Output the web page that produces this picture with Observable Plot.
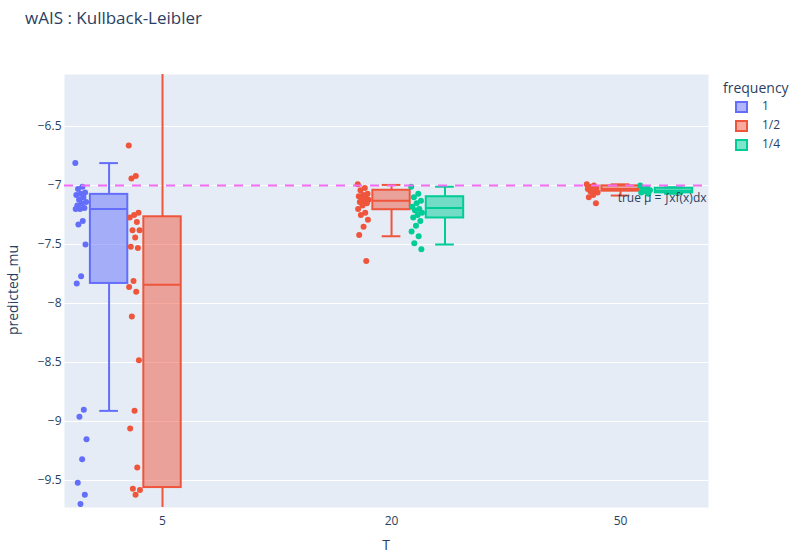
<!DOCTYPE html>
<html><head><meta charset="utf-8">
<script src="https://cdn.jsdelivr.net/npm/d3@7"></script>
<script src="https://cdn.jsdelivr.net/npm/@observablehq/plot@0.6"></script>
<style>
body{margin:0;background:#fff;font-family:"Open Sans",sans-serif;color:#2a3f5f}
#wrap{position:relative;width:802px;height:559px}
.abs{position:absolute;white-space:nowrap;line-height:1}
.sw{position:absolute;width:13px;height:12px;box-sizing:border-box;border:2px solid}
</style></head><body><div id="wrap"></div>
<script>
// ---- data ----
const categories = ["5", "20", "50"];
const frequencies = ["1", "1/2", "1/4"];
const colors = ["#636efa", "#EF553B", "#00cc96"];
const trueMu = -7;
const yTicks = [-9.5, -9, -8.5, -8, -7.5, -7, -6.5];

const pointsT5F1 = [-6.81, -7.01, -7.03, -7.06, -7.07, -7.08, -7.10, -7.12, -7.14, -7.15, -7.17, -7.19, -7.20, -7.20, -7.30, -7.33, -7.50, -7.77, -7.83, -8.90, -8.96, -9.15, -9.32, -9.52, -9.62, -9.70];
const pointsT5F2 = [-6.66, -6.92, -6.94, -7.23, -7.25, -7.27, -7.31, -7.38, -7.38, -7.44, -7.52, -7.53, -7.81, -7.86, -7.90, -8.11, -8.48, -8.91, -9.06, -9.39, -9.57, -9.58, -9.62];
const pointsT20F2 = [-6.99, -7.02, -7.04, -7.07, -7.08, -7.09, -7.10, -7.11, -7.12, -7.13, -7.14, -7.15, -7.17, -7.20, -7.23, -7.25, -7.29, -7.35, -7.42, -7.64];
const pointsT20F4 = [-7.01, -7.07, -7.10, -7.13, -7.15, -7.18, -7.20, -7.21, -7.23, -7.25, -7.27, -7.30, -7.34, -7.39, -7.43, -7.49, -7.54];
const pointsT50F2 = [-6.99, -7.00, -7.01, -7.02, -7.02, -7.03, -7.04, -7.05, -7.06, -7.08, -7.10, -7.15];
const pointsT50F4 = [-7.00, -7.02, -7.03, -7.04, -7.05, -7.06, -7.07];

const boxT     = ["5", "5", "20", "20", "50", "50"];
const boxFreq  = ["1", "1/2", "1/2", "1/4", "1/2", "1/4"];
const boxLower = [-8.91, -10.4, -7.43, -7.50, -7.085, -7.07];
const boxQ1    = [-7.83, -9.56, -7.205, -7.275, -7.048, -7.062];
const boxMed   = [-7.20, -7.84, -7.13, -7.19, -7.03, -7.045];
const boxQ3    = [-7.075, -7.265, -7.04, -7.095, -7.003, -7.023];
const boxUpper = [-6.81, -5.6, -6.995, -7.01, -6.99, -7.015];

// ---- layout helpers (grouped boxes like plotly boxmode=group) ----
const slot = 0.7 / 3, half = slot * 0.7 / 2;
const center = (t, f) => categories.indexOf(t) + (frequencies.indexOf(f) - 1) * slot;

const boxes = boxT.map((t, i) => {
  const c = center(t, boxFreq[i]);
  return {t, f: boxFreq[i], c, x1: c - half, x2: c + half, cap1: c - half / 2, cap2: c + half / 2,
    lower: boxLower[i], q1: boxQ1[i], median: boxMed[i], q3: boxQ3[i], upper: boxUpper[i]};
});

const pointSets = [
  {t: "5", f: "1", v: pointsT5F1}, {t: "5", f: "1/2", v: pointsT5F2},
  {t: "20", f: "1/2", v: pointsT20F2}, {t: "20", f: "1/4", v: pointsT20F4},
  {t: "50", f: "1/2", v: pointsT50F2}, {t: "50", f: "1/4", v: pointsT50F4}
];
const points = pointSets.flatMap(s => s.v.map((y, i) => ({
  f: s.f, y, x: center(s.t, s.f) - 1.5 * half + (((i * 0.618034) % 1) - 0.5) * 0.05
})));

const fmtY = v => (v < 0 ? "\u2212" : "") + String(Math.abs(v));

const chart = Plot.plot({
  width: 802, height: 559,
  marginLeft: 64, marginRight: 94, marginTop: 74, marginBottom: 52,
  style: {fontFamily: "'Open Sans', sans-serif", fontSize: "12px", color: "#2a3f5f", background: "transparent", overflow: "visible"},
  x: {domain: [-0.428, 2.384], ticks: [0, 1, 2], tickFormat: i => categories[i], tickSize: 0, tickPadding: 9, label: null},
  y: {domain: [-9.729, -6.059], ticks: yTicks, tickFormat: fmtY, tickSize: 0, tickPadding: 3, label: null},
  color: {domain: frequencies, range: colors},
  marks: [
    Plot.frame({fill: "#E5ECF6", stroke: "none"}),
    Plot.ruleY(yTicks, {stroke: "white", strokeWidth: 1}),
    Plot.ruleX(boxes, {x: "c", y1: "q3", y2: "upper", stroke: "f", strokeWidth: 2, clip: true}),
    Plot.ruleX(boxes, {x: "c", y1: "q1", y2: "lower", stroke: "f", strokeWidth: 2, clip: true}),
    Plot.ruleY(boxes, {y: "upper", x1: "cap1", x2: "cap2", stroke: "f", strokeWidth: 2, clip: true}),
    Plot.ruleY(boxes, {y: "lower", x1: "cap1", x2: "cap2", stroke: "f", strokeWidth: 2, clip: true}),
    Plot.rect(boxes, {x1: "x1", x2: "x2", y1: "q1", y2: "q3", fill: "f", fillOpacity: 0.5, stroke: "f", strokeWidth: 2, clip: true}),
    Plot.ruleY(boxes, {y: "median", x1: "x1", x2: "x2", stroke: "f", strokeWidth: 2, clip: true}),
    Plot.dot(points, {x: "x", y: "y", fill: "f", r: 3, stroke: "none", clip: true}),
    Plot.ruleY([trueMu], {stroke: "#f46cf4", strokeWidth: 2, strokeDasharray: "9,8"}),
    Plot.text([{y: trueMu, label: "true μ = ∫xf(x)dx"}], {y: "y", text: "label", frameAnchor: "right", textAnchor: "end", lineAnchor: "middle", dy: 13, dx: -2, fill: "#2a3f5f", fontSize: 12})
  ]
});

const wrap = document.getElementById("wrap");
wrap.appendChild(chart);

function addText(txt, css) {
  const d = document.createElement("div");
  d.className = "abs";
  d.textContent = txt;
  Object.assign(d.style, css);
  wrap.appendChild(d);
  return d;
}
addText("wAIS : Kullback-Leibler", {left: "25px", top: "9px", fontSize: "17px"});
addText("predicted_mu", {left: "13px", top: "290px", fontSize: "14px", transform: "translate(-50%,-50%) rotate(-90deg)"});
addText("T", {left: "386px", top: "545px", fontSize: "14px", transform: "translate(-50%,-50%)"});
addText("frequency", {left: "723px", top: "81px", fontSize: "14px"});
frequencies.forEach((f, i) => {
  const y = 107 + i * 19;
  const sw = document.createElement("div");
  sw.className = "sw";
  sw.style.left = "735px";
  sw.style.top = (y - 6) + "px";
  sw.style.borderColor = colors[i];
  const c = d3.color(colors[i]); c.opacity = 0.5;
  sw.style.background = c.formatRgb();
  wrap.appendChild(sw);
  addText(f, {left: "762px", top: (y - 7) + "px", fontSize: "12px"});
});
</script></body></html>
